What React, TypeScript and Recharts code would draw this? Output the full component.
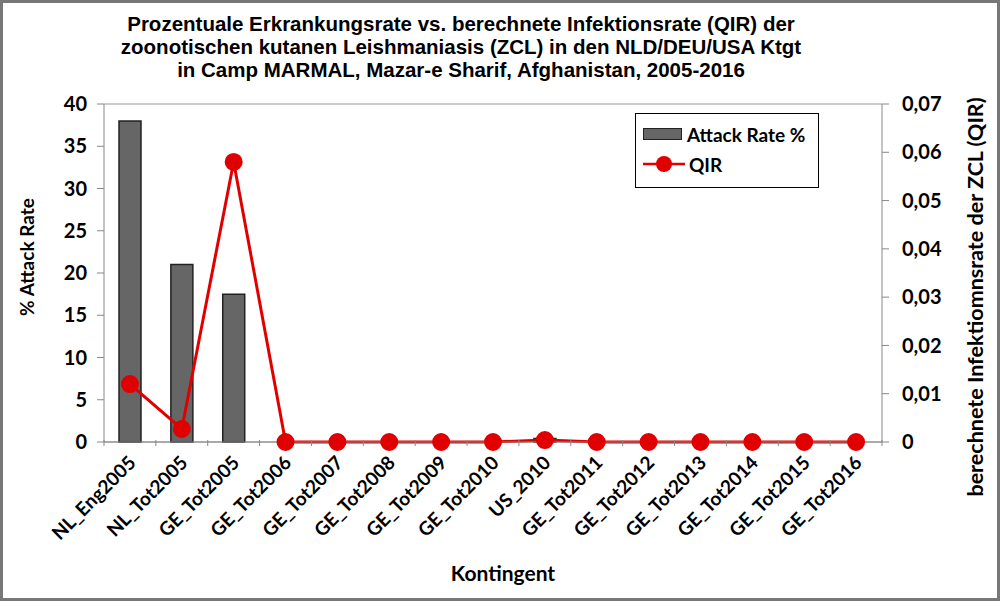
import React from 'react';
import {ComposedChart, Bar, Line, XAxis, YAxis, CartesianGrid, Label} from 'recharts';

const categories = ['NL_Eng2005', 'NL_Tot2005', 'GE_Tot2005', 'GE_Tot2006', 'GE_Tot2007', 'GE_Tot2008', 'GE_Tot2009', 'GE_Tot2010', 'US_2010', 'GE_Tot2011', 'GE_Tot2012', 'GE_Tot2013', 'GE_Tot2014', 'GE_Tot2015', 'GE_Tot2016'];
const attackRate = [38, 21, 17.5, 0, 0, 0, 0, 0, 0.4, 0, 0, 0, 0, 0, 0];
const qir = [0.012, 0.0027, 0.058, 0, 0, 0, 0, 0, 0.0004, 0, 0, 0, 0, 0, 0];
const leftTicks = [0, 5, 10, 15, 20, 25, 30, 35, 40];
const rightTicks = [0, 0.01, 0.02, 0.03, 0.04, 0.05, 0.06, 0.07];
const titleLines = [
    'Prozentuale Erkrankungsrate vs. berechnete Infektionsrate (QIR) der',
    'zoonotischen kutanen Leishmaniasis (ZCL) in den NLD/DEU/USA Ktgt',
    'in Camp MARMAL, Mazar-e Sharif, Afghanistan, 2005-2016',
];

const data = categories.map((c, i) => ({name: c, attack: attackRate[i], qir: qir[i]}));

const font = 'Lato, "Open Sans", sans-serif';
const band = 778 / categories.length;
const labelStyle = {fontFamily: font, fontWeight: 700, fill: '#000'};

const XTick = (props: any) => {
    const {x, y, payload, index} = props;
    return (
        <g>
            <line x1={x - band / 2} x2={x - band / 2} y1={y - 10} y2={y - 4} stroke="#888" />
            {index === categories.length - 1 && (
                <line x1={x + band / 2} x2={x + band / 2} y1={y - 10} y2={y - 4} stroke="#888" />
            )}
            <text x={x + 7} y={y + 14} textAnchor="end" transform={`rotate(-45, ${x + 7}, ${y + 14})`}
                  fontFamily={font} fontWeight={700} fontSize={19} fill="#000">
                {payload.value}
            </text>
        </g>
    );
};

// rotated axis title, shifted along the axis a bit like the original
const sideTitle = (text: string, cx: number, shift: number, size: number) => (p: any) => {
    const cy = p.viewBox.y + p.viewBox.height / 2 + shift;
    return (
        <text x={cx} y={cy} textAnchor="middle" dominantBaseline="central" fontSize={size} {...labelStyle}
              transform={`rotate(-90, ${cx}, ${cy})`}>
            {text}
        </text>
    );
};

// legend drawn as an overlay so it doesn't eat plot space
const LegendBox = () => (
    <div style={{position: 'absolute', left: 635, top: 113, border: '1.5px solid #000', background: '#fff', width: 184,
        height: 75, boxSizing: 'border-box', fontFamily: font, fontWeight: 700, fontSize: 19, padding: '7px 0 0 7px'}}>
        <div style={{display: 'flex', alignItems: 'center', height: 26}}>
            <span style={{display: 'inline-block', width: 37, height: 10, background: '#666', border: '1.5px solid #222', marginRight: 5}} />
            Attack Rate %
        </div>
        <div style={{display: 'flex', alignItems: 'center', height: 34}}>
            <svg width={44} height={18} style={{marginRight: 2}}>
                <line x1={0} x2={42} y1={9} y2={9} stroke="#e00000" strokeWidth={2.5} />
                <circle cx={21} cy={9} r={8} fill="#e00000" />
            </svg>
            QIR
        </div>
    </div>
);

export default function App() {
    return (
        <div style={{position: 'absolute', left: 0, top: 0, width: 1000, height: 601, background: '#fff'}}>
            <div style={{position: 'absolute', left: 0, top: 12, width: 922, textAlign: 'center',
                fontFamily: '"Liberation Sans", Arial, sans-serif', fontWeight: 700,
                fontSize: 20.5, lineHeight: '23px', color: '#000'}}>
                {titleLines.map((t) => <div key={t}>{t}</div>)}
            </div>
            <ComposedChart width={1000} height={601} data={data} margin={{top: 104, right: 0, bottom: 0, left: 0}}
                           style={{position: 'absolute', left: 0, top: 0}}>
                <CartesianGrid vertical={false} stroke="#999" strokeWidth={1.2} />
                <XAxis dataKey="name" height={159} tickLine={false} interval={0} tick={<XTick />}
                       axisLine={{stroke: '#888'}}>
                    <Label value="Kontingent" position="insideBottom" offset={20} dx={10}
                           style={{...labelStyle, fontSize: 21}} />
                </XAxis>
                <YAxis yAxisId="left" width={104} domain={[0, 40]} ticks={leftTicks} interval={0}
                       tickSize={7} tickMargin={10} axisLine={{stroke: '#888'}} tickLine={{stroke: '#888'}}
                       tick={{...labelStyle, fontSize: 20}}>
                    <Label content={sideTitle('% Attack Rate', 26, -16, 19)} />
                </YAxis>
                <YAxis yAxisId="right" orientation="right" width={118} domain={[0, 0.07]} ticks={rightTicks}
                       interval={0} tickSize={7} tickMargin={13} axisLine={{stroke: '#888'}} tickLine={{stroke: '#888'}}
                       tickFormatter={(v: number) => (v === 0 ? '0' : v.toFixed(2).replace('.', ','))}
                       tick={{...labelStyle, fontSize: 20, textAnchor: 'start'}}>
                    <Label content={sideTitle('berechnete Infektiomnsrate der ZCL (QIR)', 975, 24, 21.5)} />
                </YAxis>
                <Bar yAxisId="left" dataKey="attack" name="Attack Rate %" fill="#666" stroke="#222" strokeWidth={1.5}
                     barSize={22} isAnimationActive={false} />
                <Line yAxisId="right" dataKey="qir" name="QIR" stroke="#e00000" strokeWidth={3}
                      dot={{r: 7.5, fill: '#e00000', stroke: '#e00000'}} isAnimationActive={false} />
            </ComposedChart>
            <LegendBox />
            <div style={{position: 'absolute', left: 0, top: 0, width: 1000, height: 601, boxSizing: 'border-box',
                border: '3px solid #777', pointerEvents: 'none'}} />
        </div>
    );
}
